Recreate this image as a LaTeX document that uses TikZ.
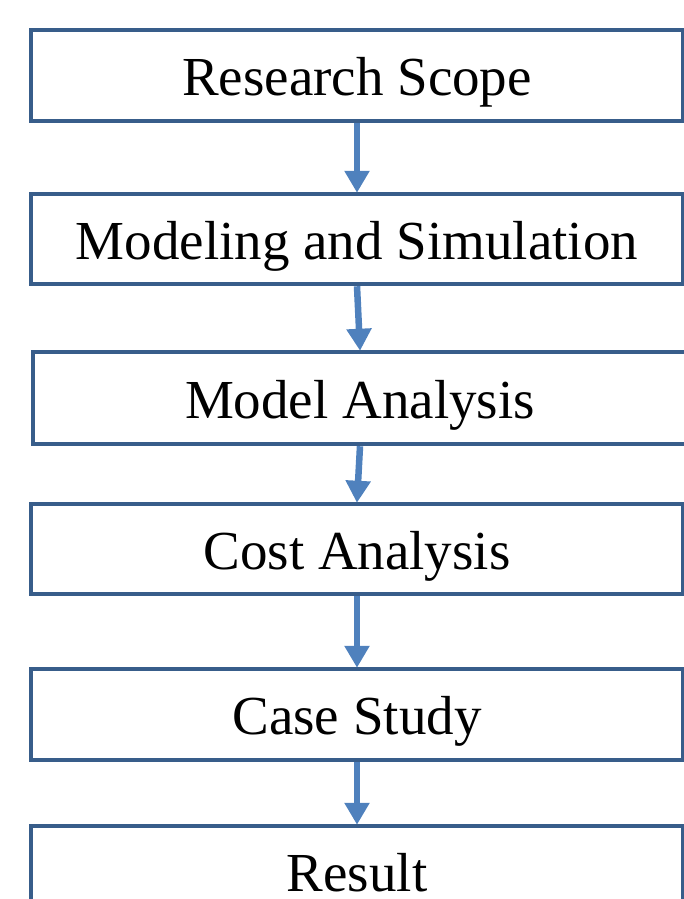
\documentclass[tikz,border=0pt]{standalone}
\usepackage{fontspec}
\setmainfont{Liberation Serif}
\usetikzlibrary{arrows.meta}
\definecolor{boxline}{HTML}{385D8A}
\definecolor{arrowblue}{HTML}{4F81BD}
\tikzset{
  stepbox/.style={draw=boxline, line width=4.5pt, fill=white, rectangle,
    minimum width=652pt, inner sep=0pt, text height=50pt, text depth=10pt,
    font=\fontsize{55}{66}\selectfont},
  flowarrow/.style={draw=arrowblue, line width=6.5pt,
    -{Triangle[width=24pt,length=22pt,fill=arrowblue]}, shorten >=-1pt}
}
\begin{document}
\begin{tikzpicture}[x=1pt,y=-1pt]
\useasboundingbox (0,0) rectangle (684,899);
\node[stepbox, minimum height=91pt] (b1) at (357,75.5) {Research Scope};
\node[stepbox, minimum height=90pt] (b2) at (357,239) {Modeling and Simulation};
\node[stepbox, minimum height=92pt, minimum width=654pt] (b3) at (360,398) {Model Analysis};
\node[stepbox, minimum height=90pt] (b4) at (357,549) {Cost Analysis};
\node[stepbox, minimum height=91pt] (b5) at (357,714.5) {Case Study};
\node[stepbox, minimum height=91pt, text height=44pt, text depth=4pt] (b6) at (357,871.5) {Result};
\draw[flowarrow] (b1.south) -- (b2.north);
\draw[flowarrow] (b2.south) -- (b3.north);
\draw[flowarrow] (b3.south) -- (b4.north);
\draw[flowarrow] (b4.south) -- (b5.north);
\draw[flowarrow] (b5.south) -- (b6.north);
\end{tikzpicture}
\end{document}
